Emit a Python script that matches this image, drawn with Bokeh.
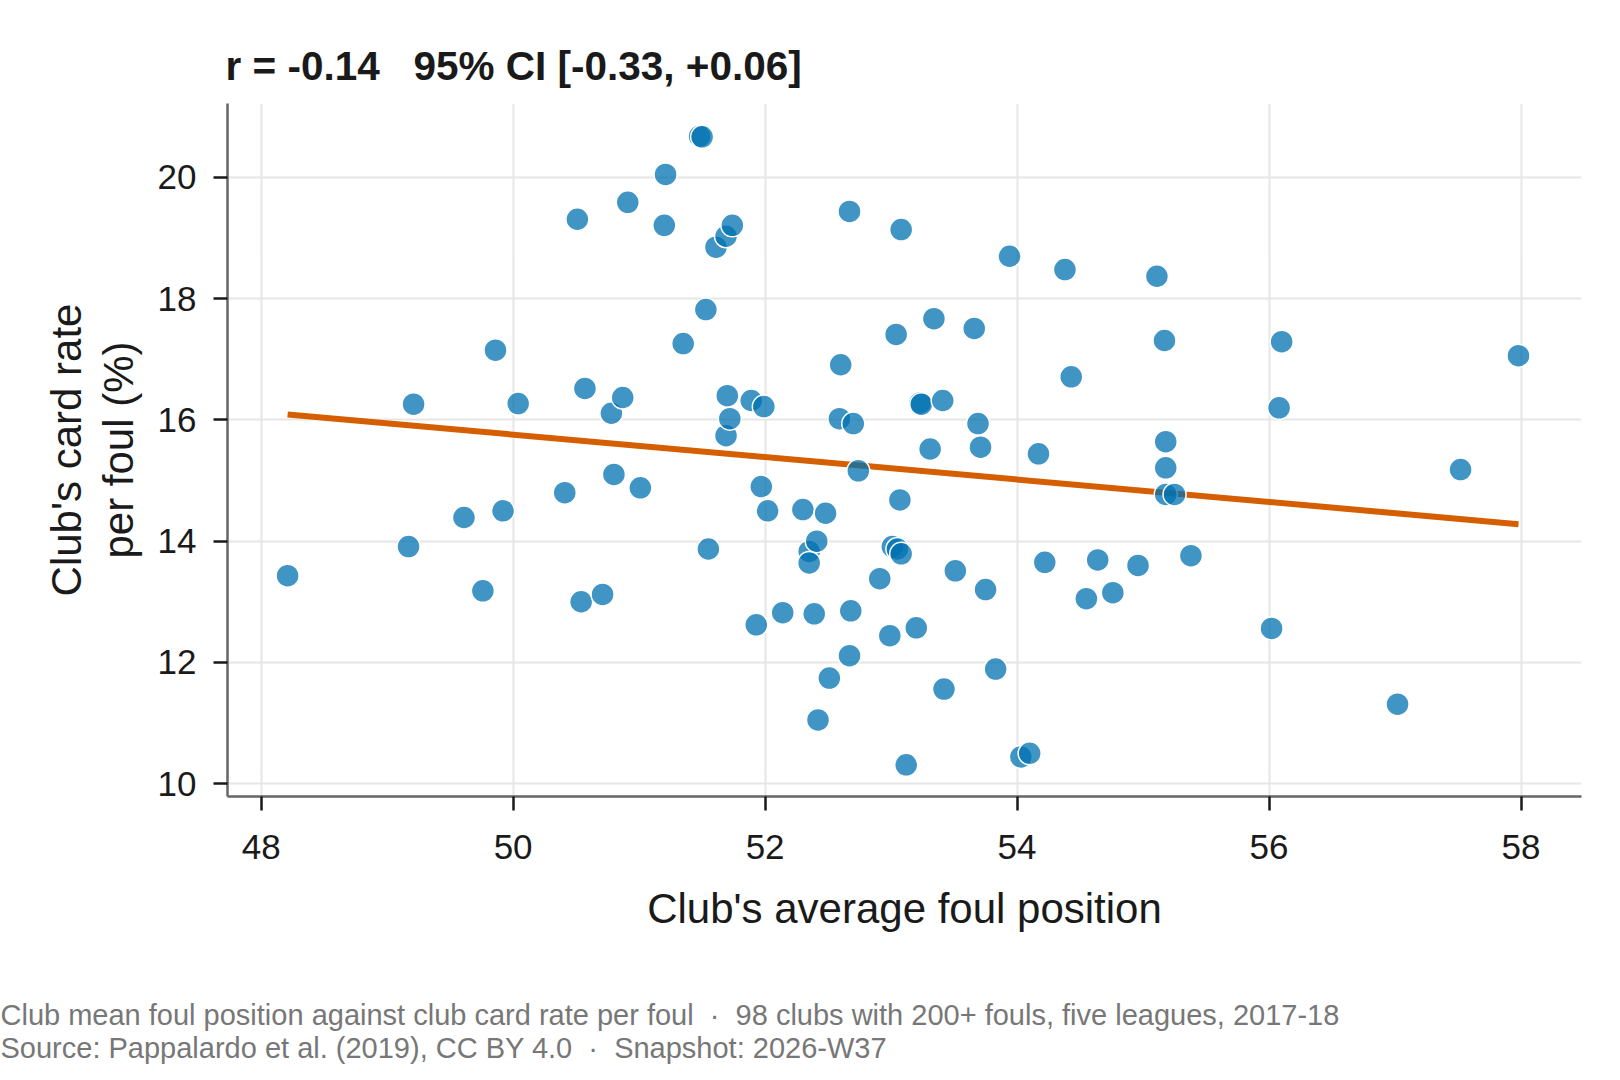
import numpy as np
from bokeh.plotting import figure
from bokeh.models import Range1d, FixedTicker, Title
from bokeh.embed import file_html
from bokeh.resources import INLINE

# Club's average foul position (x) and card rate per foul in % (y)
foul_position = [
    48.21, 49.17, 49.21, 49.61, 49.76, 49.86, 49.92, 50.04, 50.41, 50.51,
    50.54, 50.57, 50.71, 50.78, 50.80, 50.87, 50.91, 51.01, 51.20, 51.21,
    51.35, 51.48, 51.50, 51.53, 51.55, 51.61, 51.69, 51.69, 51.70, 51.72,
    51.74, 51.89, 51.93, 51.97, 51.99, 52.02, 52.14, 52.30, 52.35, 52.35,
    52.39, 52.41, 52.42, 52.48, 52.51, 52.59, 52.60, 52.67, 52.67, 52.68,
    52.70, 52.74, 52.91, 52.99, 53.01, 53.05, 53.04, 53.07, 53.08, 53.08,
    53.12, 53.20, 53.23, 53.24, 53.31, 53.34, 53.41, 53.42, 53.51, 53.66,
    53.69, 53.71, 53.75, 53.83, 53.94, 54.03, 54.10, 54.17, 54.22, 54.38,
    54.43, 54.55, 54.64, 54.76, 54.96, 55.11, 55.17, 55.18, 55.18, 55.18,
    55.25, 55.38, 56.02, 56.08, 56.10, 57.02, 57.52, 57.98,
]
card_rate = [
    13.43, 13.91, 16.26, 14.39, 13.18, 17.15, 14.50, 16.27, 14.80, 19.31,
    13.00, 16.52, 13.12, 16.11, 15.10, 16.37, 19.59, 14.88, 19.21, 20.05,
    17.26, 20.68, 20.67, 17.82, 13.87, 18.85, 19.03, 15.74, 16.40, 16.02,
    19.21, 16.32, 12.62, 14.90, 16.22, 14.50, 12.82, 14.52, 13.83, 13.64,
    12.80, 14.00, 11.05, 14.46, 11.74, 16.02, 16.91, 19.44, 12.11, 12.85,
    15.94, 15.16, 13.38, 12.44, 13.91, 13.87, 17.41, 14.68, 13.79, 19.14,
    10.31, 12.57, 16.28, 16.26, 15.52, 17.67, 16.32, 11.56, 13.51, 17.51,
    15.94, 15.55, 13.20, 11.89, 18.70, 10.44, 10.50, 15.44, 13.65, 18.48,
    16.71, 13.05, 13.69, 13.15, 13.60, 18.37, 17.31, 15.64, 15.21, 14.77,
    14.77, 13.76, 12.56, 16.20, 17.29, 11.31, 15.18, 17.06,
]
x_ticks = [48, 50, 52, 54, 56, 58]
y_ticks = [10, 12, 14, 16, 18, 20]

NBSP = "\u00a0"
title_text = "r = -0.14" + NBSP * 3 + "95% CI [-0.33, +0.06]"
x_label = "Club's average foul position"
y_label = "Club's card rate\nper foul (%)"
footer_1 = ("Club mean foul position against club card rate per foul" + NBSP * 2 + "\u00b7" + NBSP * 2 +
            "98 clubs with 200+ fouls, five leagues, 2017-18")
footer_2 = "Source: Pappalardo et al. (2019), CC BY 4.0" + NBSP * 2 + "\u00b7" + NBSP * 2 + "Snapshot: 2026-W37"

FONT = "Liberation Sans"
INK = "#1a1a1a"

W, H = 1600, 1075
LEFT, RIGHT, TOP, BOTTOM = 227, 19, 103, 1075 - 796
p = figure(width=W, height=H, output_backend="svg", toolbar_location=None,
           x_range=Range1d(47.733, 58.48), y_range=Range1d(9.787, 21.22),
           min_border_left=LEFT, min_border_right=RIGHT, min_border_top=TOP,
           min_border_bottom=BOTTOM)
p.outline_line_color = None
p.background_fill_color = "white"
p.border_fill_color = "white"

p.title.text = title_text
p.title.text_font = FONT
p.title.text_font_size = "40.5px"
p.title.text_font_style = "bold"
p.title.text_color = INK
p.title.align = "left"
p.title.offset = -2
p.title.standoff = 29

for ax in (p.xaxis[0], p.yaxis[0]):
    ax.axis_line_color = "#666666"
    ax.axis_line_width = 2.5
    ax.major_tick_line_color = INK
    ax.major_tick_line_width = 2.5
    ax.major_tick_in = 0
    ax.major_tick_out = 14
    ax.minor_tick_line_color = None
    ax.major_label_text_font = FONT
    ax.major_label_text_font_size = "35px"
    ax.major_label_text_color = INK
    ax.axis_label_text_font = FONT
    ax.axis_label_text_font_size = "42px"
    ax.axis_label_text_font_style = "normal"
    ax.axis_label_text_color = INK
    ax.axis_label_text_line_height = 1.1

p.xaxis.ticker = FixedTicker(ticks=x_ticks)
p.yaxis.ticker = FixedTicker(ticks=y_ticks)
p.xaxis.axis_label = x_label
p.yaxis.axis_label = y_label
p.xaxis.major_label_standoff = 24
p.yaxis.major_label_standoff = 17
p.xaxis.axis_label_standoff = 23
p.yaxis.axis_label_standoff = 13

p.grid.grid_line_color = "#e6e6e6"
p.grid.grid_line_width = 2

# least-squares trend line from the data
xs = np.array(foul_position)
ys = np.array(card_rate)
slope, intercept = np.polyfit(xs, ys, 1)
line_x = [xs.min(), xs.max()]
line_y = [intercept + slope * v for v in line_x]
p.line(line_x, line_y, line_color="#D55E00", line_width=6)

p.scatter(foul_position, card_rate, size=23, fill_color="#0072B2", fill_alpha=0.75,
          line_color="white", line_width=1.5)

# spacer between the axis label and the source notes
p.add_layout(Title(text=NBSP, align="left", standoff=31, text_font=FONT,
                   text_font_size="26px", text_color="white"), "below")
for txt in (footer_1, footer_2):
    p.add_layout(Title(text=txt, align="left", offset=-LEFT, standoff=-1,
                       text_font=FONT, text_font_size="29px", text_font_style="normal",
                       text_color="#777777"), "below")

open("out.html", "w").write(file_html(p, INLINE))
